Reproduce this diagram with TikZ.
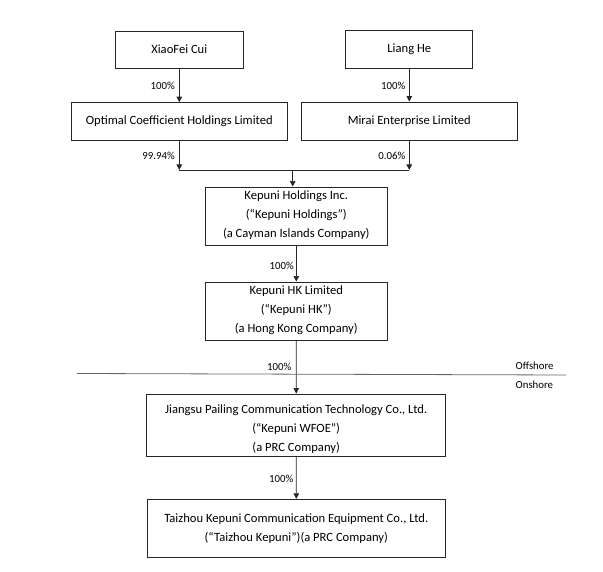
\documentclass[tikz,border=0pt]{standalone}
\usepackage{fontspec}
\setmainfont{Carlito}
\usetikzlibrary{arrows.meta}
\begin{document}
\begin{tikzpicture}[x=1pt,y=-1pt,
  ent/.style={draw=black!85,line width=0.8pt,inner sep=0pt,font=\fontsize{12.6}{19}\selectfont,align=center},
  pct/.style={font=\fontsize{10.8}{12}\selectfont,inner sep=0pt},
  own/.style={draw=black!85,line width=0.7pt,-{Triangle[length=5.5pt,width=5.5pt]}},
  link/.style={draw=black!85,line width=0.7pt}]
\useasboundingbox (0,0) rectangle (603,572);
\node[ent,minimum width=127.7pt,minimum height=37pt] (xc) at (179.3,49.5) {XiaoFei Cui};
\node[ent,minimum width=127pt,minimum height=38pt] (lh) at (409.3,49) {Liang He};
\node[ent,minimum width=216.7pt,minimum height=37.3pt] (opt) at (179.3,121.3) {Optimal Coefficient Holdings Limited};
\node[ent,minimum width=216.7pt,minimum height=38pt] (mir) at (409.3,121) {Mirai Enterprise Limited};
\node[ent,minimum width=182.7pt,minimum height=58.7pt] (kh) at (296.3,216.3) {Kepuni Holdings Inc.\\(“Kepuni Holdings”)\\(a Cayman Islands Company)\rule[-4pt]{0pt}{0pt}};
\node[ent,minimum width=182.7pt,minimum height=58.7pt] (khk) at (296.3,311.3) {Kepuni HK Limited\\(“Kepuni HK”)\\(a Hong Kong Company)\rule[-4pt]{0pt}{0pt}};
\node[ent,minimum width=299pt,minimum height=62.7pt] (wfoe) at (296.2,425.3) {};
\node[ent,minimum width=297.3pt,minimum height=58pt] (tz) at (296.3,528.3) {Taizhou Kepuni Communication Equipment Co., Ltd.\\(“Taizhou Kepuni”)(a PRC Company)};
\begin{scope}
\clip (wfoe.north west) rectangle ([yshift=-1pt]wfoe.south east);
\node[font=\fontsize{12.6}{19}\selectfont,align=center,inner sep=0pt] (wfoet) at (296.2,429.5) {Jiangsu Pailing Communication Technology Co., Ltd.\\(“Kepuni WFOE”)\\(a PRC Company)};
\end{scope}
\coordinate (mL) at (179.3,170);
\coordinate (mR) at (409.3,170);
\coordinate (mC) at (292.7,170);
\coordinate (lnL) at (77,373.5);
\coordinate (lnR) at (566,375);
\draw[own] (xc) -- (opt);
\draw[own] (lh) -- (mir);
\draw[own] (opt.south) -- (mL);
\draw[own] (mir.south) -- (mR);
\draw[link] (mL) -- (mR);
\draw[own] (mC) -- (mC |- kh.north);
\draw[own] (kh) -- (khk);
\draw[own] (khk) -- (wfoe);
\draw[own] (wfoe) -- (tz);
\draw[draw=black!60,line width=0.8pt] (lnL) -- (lnR);
\node[pct,anchor=east] (p1) at (175,86) {100\%};
\node[pct,anchor=east] (p2) at (405.5,86) {100\%};
\node[pct,anchor=east] (p3) at (175,156) {99.94\%};
\node[pct,anchor=east] (p4) at (405.5,156) {0.06\%};
\node[pct,anchor=east] (p5) at (294,266) {100\%};
\node[pct,anchor=east] (p6) at (291.5,366.5) {100\%};
\node[pct,anchor=east] (p7) at (293.5,479) {100\%};
\node[pct,anchor=west] (off) at (515.5,366) {Offshore};
\node[pct,anchor=west] (on) at (515.5,385) {Onshore};
\end{tikzpicture}
\end{document}
